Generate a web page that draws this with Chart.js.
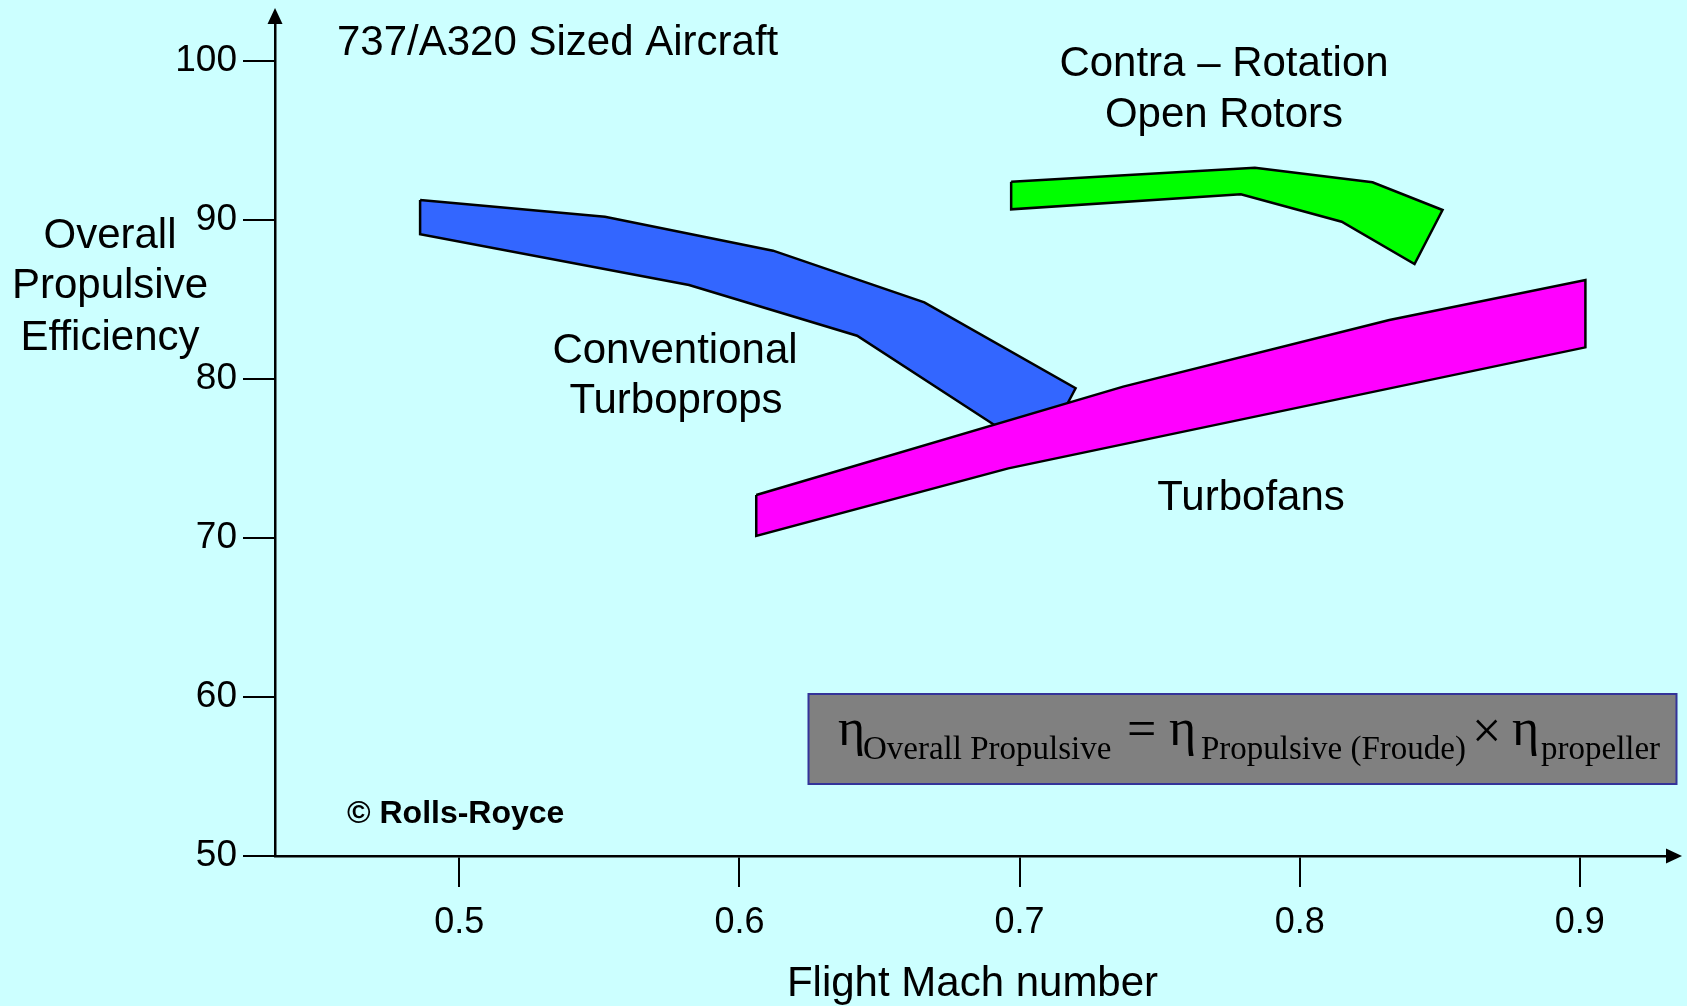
<!DOCTYPE html>
<html>
<head>
<meta charset="utf-8">
<script src="https://cdn.jsdelivr.net/npm/chart.js@4.4.1/dist/chart.umd.min.js"></script>
<style>
  html, body { margin: 0; padding: 0; background: #ccffff; }
  #wrap { width: 1687px; height: 1006px; position: relative; }
</style>
</head>
<body>
<div id="wrap"><canvas id="c"></canvas></div>
<script>
// Overall propulsive efficiency (%) against flight Mach number, 737/A320 sized aircraft.
const machTicks = [0.5, 0.6, 0.7, 0.8, 0.9];
const effTicks = [50, 60, 70, 80, 90, 100];

const seriesNames = ['Turbofans', 'Contra – Rotation Open Rotors', 'Conventional Turboprops'];

// Each band is an outline: upper edge left to right, then lower edge back right to left.
const turbofanMach = [0.606, 0.737, 0.832, 0.902, 0.902, 0.696, 0.606];
const turbofanEff  = [72.70, 79.52, 83.71, 86.23, 81.99, 74.38, 70.13];

const openRotorMach = [0.697, 0.784, 0.826, 0.851, 0.841, 0.815, 0.779, 0.697];
const openRotorEff  = [92.41, 93.29, 92.37, 90.63, 87.23, 89.89, 91.62, 90.67];

const turbopropMach = [0.486, 0.552, 0.612, 0.666, 0.720, 0.714, 0.695, 0.642, 0.582, 0.486];
const turbopropEff  = [91.26, 90.21, 88.07, 84.82, 79.42, 77.42, 76.65, 82.72, 85.91, 89.10];

const SANS = '"Liberation Sans", Arial, Helvetica, sans-serif';
const SERIF = '"Liberation Serif", "Times New Roman", serif';

function outline(xs, ys) {
  const pts = xs.map((x, i) => ({ x: x, y: ys[i] }));
  pts.push({ x: xs[0], y: ys[0] });
  return pts;
}

function band(name, xs, ys, color) {
  return {
    label: name,
    data: outline(xs, ys),
    showLine: true,
    fill: 'shape',
    backgroundColor: color,
    borderColor: '#000000',
    borderWidth: 2.5,
    borderJoinStyle: 'miter',
    pointRadius: 0,
    pointHoverRadius: 0,
    tension: 0
  };
}

// Arrowheads, free text and the efficiency formula panel
const decorations = {
  id: 'decorations',
  afterDraw(chart) {
    const ctx = chart.ctx;
    const area = chart.chartArea;
    ctx.save();

    // axis arrowheads
    ctx.fillStyle = '#000';
    ctx.beginPath();
    ctx.moveTo(area.left, 8);
    ctx.lineTo(area.left - 7.5, 24);
    ctx.lineTo(area.left + 7.5, 24);
    ctx.closePath();
    ctx.fill();
    ctx.beginPath();
    ctx.moveTo(1682, area.bottom);
    ctx.lineTo(1666, area.bottom - 7.5);
    ctx.lineTo(1666, area.bottom + 7.5);
    ctx.closePath();
    ctx.fill();
    ctx.lineWidth = 2.5;
    ctx.strokeStyle = '#000';
    ctx.beginPath();
    ctx.moveTo(area.right, area.bottom);
    ctx.lineTo(1668, area.bottom);
    ctx.stroke();

    // text
    ctx.fillStyle = '#000';
    ctx.textBaseline = 'alphabetic';
    ctx.font = '42px ' + SANS;
    ctx.textAlign = 'center';
    ctx.fillText('Overall', 110, 248);
    ctx.fillText('Propulsive', 110, 298);
    ctx.fillText('Efficiency', 110, 350);

    ctx.textAlign = 'left';
    ctx.fillText('737/A320 Sized Aircraft', 337, 55);

    ctx.textAlign = 'center';
    ctx.fillText('Contra – Rotation', 1224, 76);
    ctx.fillText('Open Rotors', 1224, 127);
    ctx.fillText('Conventional', 675, 363);
    ctx.fillText('Turboprops', 676, 413);
    ctx.fillText('Turbofans', 1251, 510);

    ctx.textAlign = 'left';
    ctx.font = 'bold 32px ' + SANS;
    ctx.fillText('© Rolls-Royce', 347, 823);

    // formula panel
    ctx.fillStyle = '#808080';
    ctx.fillRect(808.5, 694, 868, 90);
    ctx.strokeStyle = '#333399';
    ctx.lineWidth = 2;
    ctx.strokeRect(808.5, 694, 868, 90);

    ctx.fillStyle = '#000';
    ctx.textAlign = 'left';
    const big = '52px ' + SERIF;
    const sub = '33px ' + SERIF;
    ctx.font = big;
    ctx.fillText('η', 838, 745);
    ctx.font = sub;
    ctx.fillText('Overall Propulsive', 863, 759);
    ctx.font = big;
    ctx.fillText('=', 1127, 746);
    ctx.fillText('η', 1169, 745);
    ctx.font = sub;
    ctx.fillText('Propulsive (Froude)', 1201, 759);
    ctx.font = big;
    ctx.fillText('×', 1472, 748);
    ctx.fillText('η', 1512, 745);
    ctx.font = sub;
    ctx.fillText('propeller', 1541, 759);

    ctx.restore();
  }
};

new Chart(document.getElementById('c'), {
  type: 'scatter',
  data: {
    datasets: [
      band(seriesNames[0], turbofanMach, turbofanEff, '#ff00ff'),
      band(seriesNames[1], openRotorMach, openRotorEff, '#00ff00'),
      band(seriesNames[2], turbopropMach, turbopropEff, '#3366ff')
    ]
  },
  options: {
    responsive: true,
    maintainAspectRatio: false,
    animation: false,
    events: [],
    layout: { padding: { top: 14, right: 17, bottom: 0, left: 0 } },
    plugins: {
      legend: { display: false },
      tooltip: { enabled: false }
    },
    scales: {
      x: {
        type: 'linear',
        min: 0.4342,
        max: 0.9322,
        afterBuildTicks(scale) { scale.ticks = machTicks.map(v => ({ value: v })); },
        afterFit(scale) { scale.height = 150; scale.paddingLeft = 0; scale.paddingRight = 0; },
        ticks: {
          color: '#000',
          font: { family: SANS, size: 36 },
          padding: 14,
          maxRotation: 0,
          autoSkip: false,
          callback: v => v.toFixed(1)
        },
        grid: { drawOnChartArea: false, drawTicks: true, tickLength: 31, color: '#000', lineWidth: 2 },
        border: { display: true, color: '#000', width: 2.5 },
        title: {
          display: true,
          text: 'Flight Mach number',
          color: '#000',
          font: { family: SANS, size: 42, lineHeight: 1 },
          padding: { top: 0, bottom: 1 }
        }
      },
      y: {
        type: 'linear',
        min: 50,
        max: 102.956,
        afterBuildTicks(scale) { scale.ticks = effTicks.map(v => ({ value: v })); },
        afterFit(scale) { scale.width = 275; scale.paddingTop = 0; scale.paddingBottom = 0; },
        ticks: {
          color: '#000',
          font: { family: SANS, size: 37 },
          padding: 6,
          autoSkip: false
        },
        grid: { drawOnChartArea: false, drawTicks: true, tickLength: 32, color: '#000', lineWidth: 2 },
        border: { display: true, color: '#000', width: 2.5 }
      }
    }
  },
  plugins: [decorations]
});
</script>
</body>
</html>
